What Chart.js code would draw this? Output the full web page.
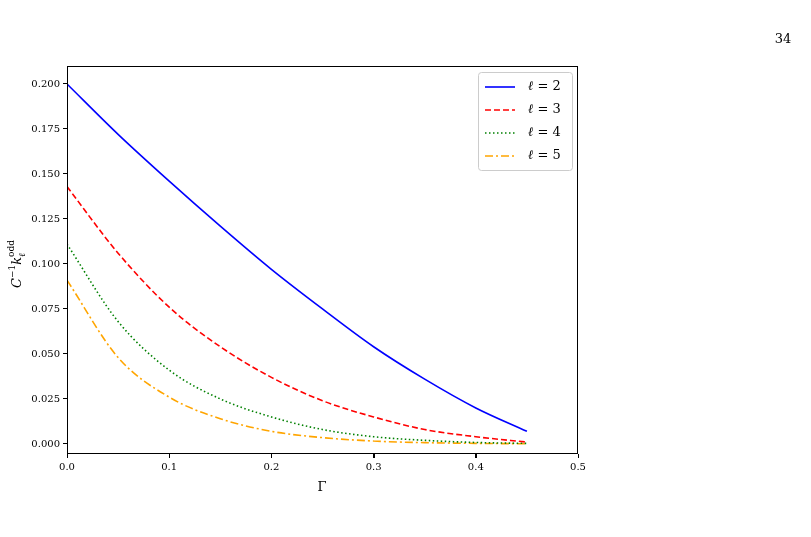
<!DOCTYPE html>
<html><head><meta charset="utf-8">
<script src="https://cdn.jsdelivr.net/npm/chart.js@4"></script>
<style>html,body{margin:0;padding:0;background:#fff}#c{display:block}</style>
</head><body>
<canvas id="c" width="811" height="537"></canvas>
<script>
const gamma = [0,0.05,0.1,0.15,0.2,0.25,0.3,0.35,0.4,0.45];
const l2 = [0.200,0.172,0.146,0.121,0.097,0.075,0.054,0.036,0.020,0.007];
const l3 = [0.143,0.106,0.076,0.054,0.037,0.024,0.015,0.008,0.004,0.001];
const l4 = [0.111,0.068,0.041,0.025,0.015,0.008,0.004,0.002,0.0008,0.0003];
const l5 = [0.091,0.048,0.026,0.014,0.007,0.0035,0.0016,0.0007,0.0003,0.0001];
const seriesLabels = ['ℓ = 2','ℓ = 3','ℓ = 4','ℓ = 5'];
const xTicks = [0,0.1,0.2,0.3,0.4,0.5];
const F = '"DejaVu Serif","Liberation Serif",serif';
function ds(lbl, arr, col, dash){
  return {label:lbl, data:gamma.map((g,i)=>({x:g,y:arr[i]})), borderColor:col, borderDash:dash,
    borderWidth:1.6, pointRadius:0, cubicInterpolationMode:'monotone', fill:false};
}
const extra = {
  id:'extra',
  afterDraw(c){
    const ctx=c.ctx, a=c.chartArea;
    ctx.save();
    ctx.strokeStyle='#000'; ctx.lineWidth=1;
    ctx.strokeRect(a.left+0.5,a.top+0.5,a.right-a.left-1,a.bottom-a.top-1);
    // x tick marks
    const xs=c.scales.x;
    xTicks.forEach(v=>{const px=Math.round(xs.getPixelForValue(v))+0.5;
      ctx.beginPath();ctx.moveTo(px,a.bottom);ctx.lineTo(px,a.bottom+4);ctx.stroke();});
    ctx.fillStyle='#000'; ctx.font='13px '+F; ctx.textAlign='center'; ctx.textBaseline='middle';
    ctx.fillText('34',783,40);
    ctx.fillText('Γ',322,488);
    ctx.translate(18,252); ctx.rotate(-Math.PI/2);
    ctx.textAlign='left';
    let x=-36;
    ctx.font='italic 13px '+F; ctx.fillText('C',x,0); x+=ctx.measureText('C').width;
    ctx.font='9px '+F; ctx.fillText('−1',x,-5); x+=ctx.measureText('−1').width;
    ctx.font='italic 13px '+F; ctx.fillText('k',x,0); let kx=x+ctx.measureText('k').width;
    ctx.font='italic 9px '+F; ctx.fillText('ℓ',kx,5);
    ctx.font='9px '+F; ctx.fillText('odd',kx,-6);
    ctx.restore();
    ctx.save();
    ctx.fillStyle='rgba(255,255,255,0.85)'; ctx.strokeStyle='#ccc'; ctx.lineWidth=1;
    ctx.beginPath(); ctx.roundRect(478.5,72.5,94,98,3); ctx.fill(); ctx.stroke();
    c.data.datasets.forEach((d,i)=>{
      const y=87+i*23;
      ctx.strokeStyle=d.borderColor; ctx.lineWidth=1.6; ctx.setLineDash(d.borderDash);
      ctx.beginPath(); ctx.moveTo(485,y); ctx.lineTo(515,y); ctx.stroke();
      ctx.setLineDash([]);
      ctx.fillStyle='#000'; ctx.textBaseline='middle'; ctx.textAlign='left';
      const parts=d.label.split(' = ');
      ctx.font='italic 13px '+F; ctx.fillText(parts[0],528,y);
      let w=ctx.measureText(parts[0]).width;
      ctx.font='13px '+F; ctx.fillText(' = '+parts[1],528+w,y);
    });
    ctx.restore();
  }
};
new Chart(document.getElementById('c'),{
  type:'line',
  data:{datasets:[
    ds(seriesLabels[0],l2,'#0000ff',[]),
    ds(seriesLabels[1],l3,'#ff0000',[6,3]),
    ds(seriesLabels[2],l4,'#008000',[1.5,2.5]),
    ds(seriesLabels[3],l5,'#ffa500',[8,3,2,3])
  ]},
  options:{
    responsive:false, animation:false,
    layout:{padding:{left:0,right:233,top:66,bottom:0}},
    plugins:{legend:{display:false},tooltip:{enabled:false}},
    scales:{
      x:{type:'linear',min:0,max:0.5,
        afterBuildTicks(s){s.ticks=xTicks.map(v=>({value:v}));},
        afterFit(s){s.height=83;},
        grid:{drawOnChartArea:false,tickLength:4,color:'#000'},
        border:{display:false},
        ticks:{color:'#000',font:{family:F,size:10},padding:3,maxRotation:0,callback:v=>v.toFixed(1)}},
      y:{min:-0.0056,max:0.21,
        afterBuildTicks(s){s.ticks=[0,0.025,0.05,0.075,0.1,0.125,0.15,0.175,0.2].map(v=>({value:v}));},
        afterFit(s){s.width=67;},
        grid:{drawOnChartArea:false,tickLength:4,color:'#000'},
        border:{display:false},
        ticks:{color:'#000',font:{family:F,size:10},padding:3,callback:v=>v.toFixed(3)}}
    }
  },
  plugins:[extra]
});
</script>
</body></html>
